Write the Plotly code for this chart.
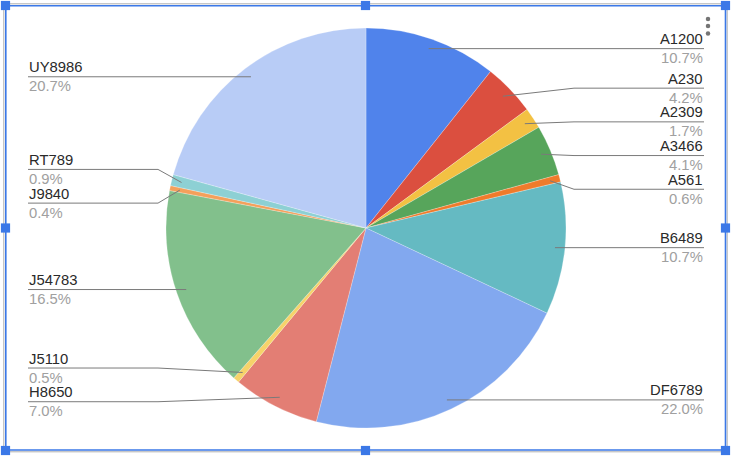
import math
import plotly.graph_objects as go

# ---- data ----
labels = ["A1200", "A230", "A2309", "A3466", "A561", "B6489", "DF6789",
          "H8650", "J5110", "J54783", "J9840", "RT789", "UY8986"]
shares = [10.7, 4.2, 1.7, 4.1, 0.6, 10.7, 22.0, 7.0, 0.5, 16.5, 0.4, 0.9, 20.7]
colors = ["#5083EB", "#DB4F3F", "#F3C143", "#57A55B", "#EF7B2B", "#65BAC2",
          "#82A8EF", "#E37E74", "#F6D36A", "#82C08C", "#F4A05B", "#8DD0D4",
          "#B8CCF6"]

# ---- layout geometry (pixels) ----
W, H = 731, 457
CX, CY, R = 366, 228, 200
DOT_R = 0.95 * R
ELBOW = R + 8
RIGHT_TXT = 704
LEFT_TXT = 28
GAP = 33.7
FONT = "Arial, Liberation Sans, sans-serif"
FS = 14.8

total = sum(shares)
cum = 0
pts = []
for lab, v in zip(labels, shares):
    mid = (cum + v / 2) / total * 2 * math.pi
    cum += v
    dx = CX + DOT_R * math.sin(mid)
    dy = CY - DOT_R * math.cos(mid)
    pts.append(dict(label=lab, v=v, x=dx, y=dy, side=1 if dx >= CX else -1))


def spread(items):
    items = sorted(items, key=lambda p: p["y"])
    clusters = [[p] for p in items]

    def place(c):
        m = sum(p["y"] for p in c) / len(c)
        return [m + (k - (len(c) - 1) / 2) * GAP for k in range(len(c))]

    changed = True
    while changed:
        changed = False
        for i in range(len(clusters) - 1):
            a, b = place(clusters[i]), place(clusters[i + 1])
            if a[-1] + GAP > b[0]:
                clusters[i] = clusters[i] + clusters[i + 1]
                del clusters[i + 1]
                changed = True
                break
    for c in clusters:
        for p, y in zip(c, place(c)):
            p["ly"] = y


spread([p for p in pts if p["side"] == 1])
spread([p for p in pts if p["side"] == -1])

fig = go.Figure()
fig.add_trace(go.Pie(
    labels=labels, values=shares, sort=False, direction="clockwise",
    rotation=0, textinfo="none", hoverinfo="skip", showlegend=False,
    marker=dict(colors=colors, line=dict(color="rgba(255,255,255,0.6)", width=0.4)),
    domain=dict(x=[(CX - R) / W, (CX + R) / W], y=[1 - (CY + R) / H, 1 - (CY - R) / H]),
))

shapes = []
annos = []
LC = "#7a7a7a"
for p in pts:
    s = p["side"]
    ex = CX + s * ELBOW
    tx = RIGHT_TXT if s == 1 else LEFT_TXT
    shapes.append(dict(type="line", xref="x", yref="y", x0=p["x"], y0=p["y"],
                       x1=ex, y1=p["ly"], line=dict(color=LC, width=1)))
    shapes.append(dict(type="line", xref="x", yref="y", x0=ex, y0=p["ly"],
                       x1=tx, y1=p["ly"], line=dict(color=LC, width=1)))
    anchor = "right" if s == 1 else "left"
    annos.append(dict(x=tx, y=p["ly"] - 9.5, xref="x", yref="y", text=p["label"],
                      showarrow=False, xanchor=anchor, yanchor="middle", borderpad=0,
                      font=dict(family=FONT, size=FS, color="#2a2a2a")))
    annos.append(dict(x=tx, y=p["ly"] + 9.5, xref="x", yref="y", text=f"{p['v']:.1f}%",
                      showarrow=False, xanchor=anchor, yanchor="middle", borderpad=0,
                      font=dict(family=FONT, size=FS, color="#a0a0a0")))

fig.add_trace(go.Scatter(
    x=[p["x"] for p in pts], y=[p["y"] for p in pts], mode="markers",
    marker=dict(size=5, color="#9a9a9a"), hoverinfo="skip", showlegend=False))

# menu dots
fig.add_trace(go.Scatter(x=[708, 708, 708], y=[19, 26, 33.5], mode="markers",
                         marker=dict(size=4.5, color="#757575"),
                         hoverinfo="skip", showlegend=False))

# chart border + selection frame
shapes.append(dict(type="rect", xref="x", yref="y", x0=3.8, y0=3.8, x1=727.2, y1=451.8,
                   line=dict(color="#b0b0b0", width=1), layer="above"))
BL = "#3b78e7"
shapes.append(dict(type="rect", xref="x", yref="y", x0=5.8, y0=5.8, x1=725.5, y1=450,
                   line=dict(color=BL, width=1.6), layer="above"))
for hx in (5.5, 365.5, 725.5):
    for hy in (5.5, 228, 450.5):
        if hx == 365.5 and hy == 228:
            continue
        shapes.append(dict(type="rect", xref="x", yref="y", x0=hx - 4.6, y0=hy - 4.6,
                           x1=hx + 4.6, y1=hy + 4.6, line=dict(width=0),
                           fillcolor=BL, layer="above"))

fig.update_layout(
    width=W, height=H, margin=dict(l=0, r=0, t=0, b=0),
    paper_bgcolor="white", plot_bgcolor="rgba(0,0,0,0)",
    xaxis=dict(range=[0, W], visible=False, fixedrange=True),
    yaxis=dict(range=[H, 0], visible=False, fixedrange=True),
    shapes=shapes, annotations=annos,
)
fig.write_html("out.html", config={"displayModeBar": False},
               post_script="document.body.style.margin='0';document.body.style.overflow='hidden';")
